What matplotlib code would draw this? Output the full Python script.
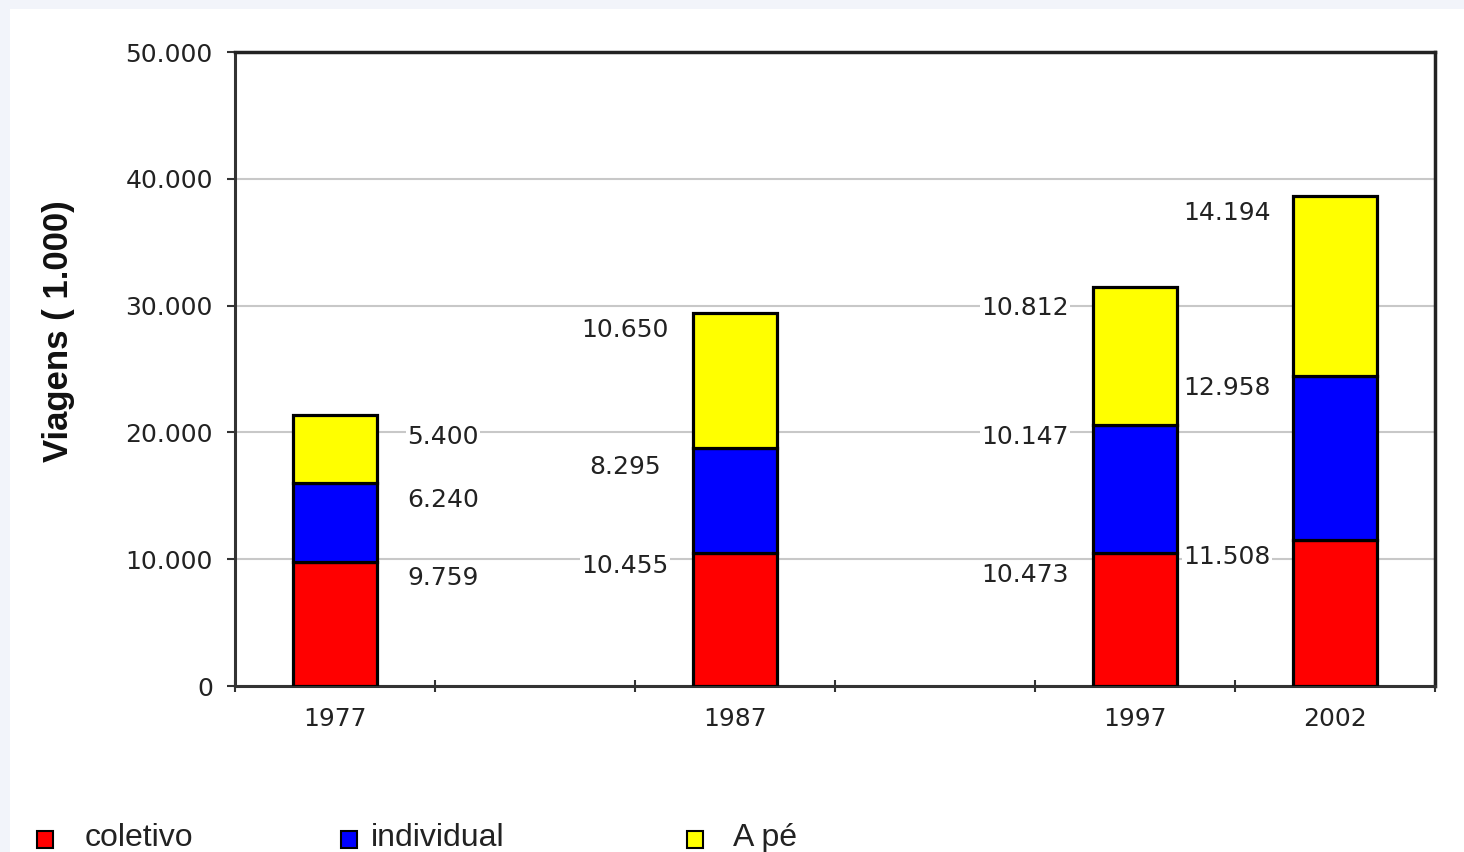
import matplotlib
matplotlib.use("Agg")
import matplotlib.pyplot as plt
from matplotlib.patches import Rectangle
import numpy as np

years = [1977, 1987, 1997, 2002]
coletivo = [9759, 10455, 10473, 11508]
individual = [6240, 8295, 10147, 12958]
a_pe = [5400, 10650, 10812, 14194]
series_names = ["coletivo", "individual", "A pé"]
colors = ["#ff0000", "#0000ff", "#ffff00"]
y_ticks = [0, 10000, 20000, 30000, 40000, 50000]

# label placement (style): horizontal offset in years, vertical position in data units
label_dx = [2.7, -2.75, -2.75, -2.7]
label_y = [
    [8517, 14669, 19637],
    [9464, 17271, 28076],
    [8754, 19637, 29811],
    [10173, 23502, 37303],
]

plt.rcParams['font.family'] = ['Liberation Sans', 'DejaVu Sans']
NUMFONT = ['DejaVu Sans']

fig = plt.figure(figsize=(14.64, 8.52), dpi=100)
fig.patch.set_facecolor("#f2f4fa")
fig.patches.append(Rectangle((10/1464, 0), 1 - 10/1464, 1 - 9/852,
                             transform=fig.transFigure, facecolor="white",
                             edgecolor="none", zorder=-10))

ax = fig.add_axes([235/1464, 1 - 686/852, 1200/1464, 634/852])
ax.set_facecolor("white")

fmt = lambda v: f"{v:,}".replace(",", ".")

bottoms = np.zeros(len(years))
for vals, c in zip([coletivo, individual, a_pe], colors):
    ax.bar(years, vals, width=2.1, bottom=bottoms, color=c,
           edgecolor="black", linewidth=2.3, zorder=3)
    bottoms += np.array(vals)

all_vals = list(zip(coletivo, individual, a_pe))
for i, yr in enumerate(years):
    for j in range(3):
        ax.text(yr + label_dx[i], label_y[i][j], fmt(all_vals[i][j]),
                ha="center", va="center", fontsize=18, color="#222222",
                family=NUMFONT,
                bbox=dict(facecolor="white", edgecolor="none", pad=1),
                zorder=4)

ax.set_xlim(1974.5, 2004.5)
ax.set_ylim(0, 50000)
ax.set_yticks(y_ticks)
ax.set_yticklabels([fmt(v) for v in y_ticks], fontsize=18, color="#222222", family=NUMFONT)
ax.set_xticks(np.arange(1974.5, 2004.6, 5))
ax.set_xticklabels([])
ax.set_xticks(years, minor=True)
ax.set_xticklabels([str(y) for y in years], minor=True, fontsize=18, color="#222222", family=NUMFONT)
ax.tick_params(axis="x", which="major", direction="inout", length=8, width=1.5, color="#333333")
ax.tick_params(axis="x", which="minor", length=0, pad=15)
ax.tick_params(axis="y", direction="out", length=6, width=1.5, color="#333333", pad=10)

ax.grid(axis="y", color="#c8c8c8", linewidth=1.5, zorder=0)
ax.set_axisbelow(True)
for s in ["left", "bottom"]:
    ax.spines[s].set_linewidth(2.2)
    ax.spines[s].set_color("#333333")
for s in ["top", "right"]:
    ax.spines[s].set_linewidth(2.5)
    ax.spines[s].set_color("#222222")

ax.set_ylabel("Viagens ( 1.000)", fontsize=25, fontweight="bold", color="#111111")
ax.yaxis.set_label_coords(-0.133, 0.56)

# legend
leg_marker_x = [45, 349, 695]
leg_text_x = [85, 371, 733]
for mx, tx, name, c in zip(leg_marker_x, leg_text_x, series_names, colors):
    fig.patches.append(Rectangle(((mx - 8) / 1464, 1 - 848 / 852), 16 / 1464, 17 / 852,
                                 transform=fig.transFigure, facecolor=c,
                                 edgecolor="black", linewidth=1.5, zorder=5))
    fig.text(tx / 1464, 1 - 838 / 852, name, fontsize=23, color="#222222",
             ha="left", va="center")

fig.savefig("out.png", dpi=100, facecolor=fig.get_facecolor())
